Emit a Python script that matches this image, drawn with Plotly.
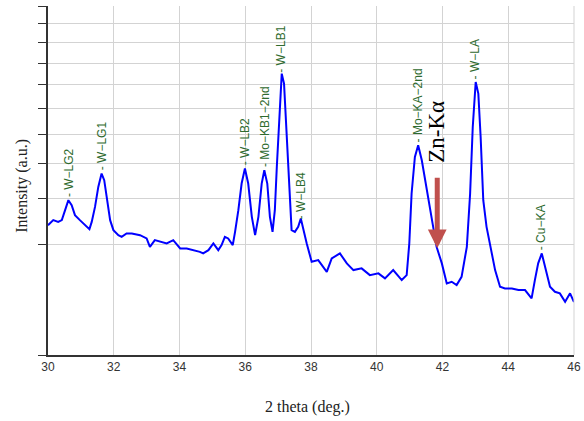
import numpy as np
import plotly.graph_objects as go

# 2-theta (deg.) and intensity (a.u., square-root scaled axis)
two_theta = [30.00, 30.16, 30.31, 30.42, 30.52, 30.62, 30.72, 30.82, 30.97, 31.13,
             31.26, 31.33, 31.43, 31.53, 31.63, 31.71, 31.78, 31.89, 31.99, 32.14,
             32.24, 32.39, 32.55, 32.80, 33.00, 33.10, 33.25, 33.41, 33.61, 33.81,
             34.02, 34.22, 34.42, 34.62, 34.72, 34.88, 35.03, 35.18, 35.28, 35.38,
             35.48, 35.62, 35.69, 35.79, 35.89, 35.99, 36.09, 36.20, 36.30, 36.40,
             36.50, 36.58, 36.67, 36.75, 36.83, 36.90, 36.96, 37.03, 37.11, 37.18,
             37.26, 37.34, 37.41, 37.51, 37.61, 37.69, 37.77, 37.87, 38.02, 38.22,
             38.48, 38.63, 38.88, 39.09, 39.29, 39.54, 39.79, 40.05, 40.25, 40.50,
             40.76, 40.91, 40.99, 41.06, 41.16, 41.26, 41.37, 41.52, 41.62, 41.72,
             41.82, 41.98, 42.13, 42.28, 42.43, 42.58, 42.74, 42.84, 42.92, 43.01,
             43.09, 43.16, 43.24, 43.34, 43.44, 43.60, 43.75, 43.90, 44.11, 44.31,
             44.51, 44.71, 44.81, 44.91, 45.02, 45.12, 45.27, 45.42, 45.57, 45.73,
             45.88, 46.00]
intensity = [1.384, 1.493, 1.455, 1.493, 1.722, 1.968, 1.843, 1.605, 1.493, 1.384,
             1.300, 1.455, 1.801, 2.320, 2.704, 2.508, 2.052, 1.493, 1.280, 1.179,
             1.146, 1.213, 1.213, 1.179, 1.115, 0.961, 1.083, 1.051, 1.022, 1.083,
             0.932, 0.932, 0.903, 0.874, 0.847, 0.903, 1.022, 0.903, 0.991, 1.146,
             1.115, 0.991, 1.245, 1.722, 2.414, 2.855, 2.414, 1.567, 1.179, 1.567,
             2.414, 2.803, 2.414, 1.567, 1.245, 1.722, 2.904, 4.651, 6.499, 6.046,
             4.025, 2.230, 1.280, 1.245, 1.348, 1.530, 1.280, 1.022, 0.713, 0.739,
             0.568, 0.766, 0.847, 0.689, 0.592, 0.616, 0.524, 0.547, 0.482, 0.592,
             0.461, 0.524, 1.022, 2.141, 3.221, 3.612, 3.114, 2.230, 1.801, 1.280,
             0.961, 0.689, 0.421, 0.440, 0.401, 0.502, 0.961, 2.141, 4.269, 6.117,
             5.609, 3.903, 1.968, 1.348, 1.022, 0.592, 0.382, 0.364, 0.364, 0.346,
             0.346, 0.263, 0.461, 0.689, 0.847, 0.639, 0.382, 0.328, 0.312, 0.233,
             0.312, 0.230]

peak_labels = ["W−LG2", "W−LG1", "W−LB2", "Mo−KB1−2nd", "W−LB1", "W−LB4",
               "Mo−KA−2nd", "W−LA", "Cu−KA"]
peak_pos = [30.62, 31.65, 36.00, 36.58, 37.10, 37.69, 41.26, 43.00, 45.02]
peak_height = [1.968, 2.704, 2.855, 2.803, 6.40, 1.45, 3.612, 6.117, 0.847]

x_ticks = [30, 32, 34, 36, 38, 40, 42, 44, 46]
y_grid_levels = [0, 1, 2, 3, 4, 5, 6, 7, 8, 9, 10]

zn_label = "Zn-Kα"
zn_pos = 41.84
zn_arrow_tip = 0.937
zn_text_level = 4.1

sqrt_y = np.sqrt(np.array(intensity))

fig = go.Figure()
fig.add_trace(go.Scatter(x=two_theta, y=sqrt_y, mode="lines",
                         line=dict(color="#0000ff", width=2), hoverinfo="skip"))

label_color = "#2f6b2f"
for lab, xp, hp in zip(peak_labels, peak_pos, peak_height):
    fig.add_annotation(x=xp, y=np.sqrt(hp), text="- " + lab, textangle=-90,
                       showarrow=False, xanchor="center", yanchor="bottom", yshift=1,
                       font=dict(family="Liberation Sans, Arial", size=12, color=label_color))

# Zn-Kα arrow and label
fig.add_annotation(x=zn_pos, y=np.sqrt(zn_arrow_tip), ax=0, ay=-72, text="",
                   showarrow=True, arrowhead=2, arrowsize=0.75, arrowwidth=5,
                   arrowcolor="#c0504d", standoff=0)
fig.add_annotation(x=zn_pos - 0.03, y=np.sqrt(zn_text_level), text=zn_label, textangle=-90,
                   showarrow=False, xanchor="center", yanchor="middle",
                   font=dict(family="Liberation Serif, Times New Roman", size=23, color="black"))

# axis titles
fig.add_annotation(xref="paper", yref="paper", x=0.494, y=0, yshift=-52, text="2 theta (deg.)",
                   showarrow=False, xanchor="center", yanchor="middle",
                   font=dict(family="Liberation Serif, Times New Roman", size=16, color="#222222"))
fig.add_annotation(xref="paper", yref="paper", x=0, xshift=-26, y=0.485, text="Intensity (a.u.)",
                   textangle=-90, showarrow=False, xanchor="center", yanchor="middle",
                   font=dict(family="Liberation Serif, Times New Roman", size=16, color="#222222"))

fig.update_layout(
    width=584, height=421,
    margin=dict(l=48, r=10, t=6, b=66, autoexpand=False),
    paper_bgcolor="white", plot_bgcolor="white",
    showlegend=False,
    font=dict(family="Liberation Sans, Arial", size=12, color="#333333"),
)
fig.update_xaxes(range=[30, 46], tickvals=x_ticks, ticktext=[str(v) for v in x_ticks],
                 showgrid=True, gridcolor="#d3d3d3", gridwidth=1, automargin=False,
                 showline=True, linecolor="#333333", linewidth=1.5, mirror=False,
                 ticks="", zeroline=False,
                 tickfont=dict(family="Liberation Sans, Arial", size=12, color="#333333"))
fig.update_yaxes(range=[0, float(np.sqrt(10))], tickvals=np.sqrt(y_grid_levels),
                 ticktext=["" for _ in y_grid_levels], automargin=False,
                 showgrid=True, gridcolor="#d3d3d3", gridwidth=1,
                 showline=True, linecolor="#333333", linewidth=1.5,
                 ticks="outside", ticklen=8, tickcolor="#333333", tickwidth=1,
                 zeroline=False)
# light right border
fig.add_shape(type="line", xref="paper", yref="paper", x0=1, x1=1, y0=0, y1=1,
              line=dict(color="#d3d3d3", width=1))

fig.write_html("out.html", config={"displayModeBar": False},
               post_script="document.body.style.margin='0';document.body.style.padding='0';")
